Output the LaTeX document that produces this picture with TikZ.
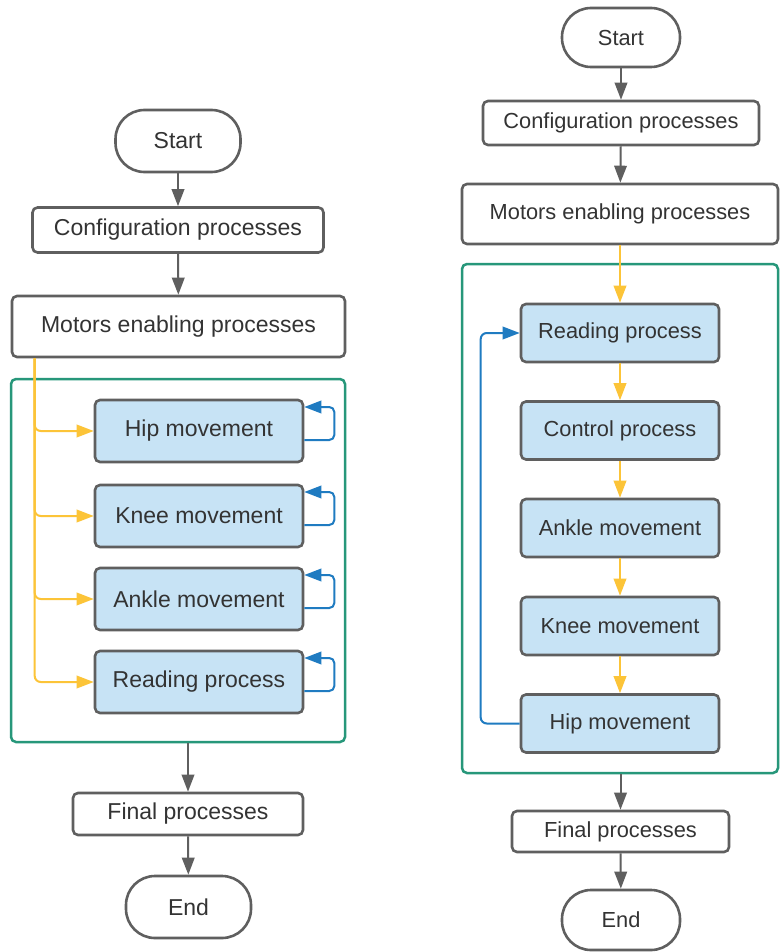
\documentclass[tikz,border=0pt]{standalone}
\usepackage{fontspec}
\setmainfont{Liberation Sans}
\usetikzlibrary{arrows.meta,calc}
\definecolor{bord}{HTML}{5F5F5F}
\definecolor{boxfill}{HTML}{C7E3F5}
\definecolor{grn}{HTML}{27977A}
\definecolor{yel}{HTML}{FCC438}
\definecolor{blu}{HTML}{1F7BC1}
\definecolor{txt}{HTML}{333333}
\begin{document}
\begin{tikzpicture}[x=1pt,y=-1pt,
  base/.style={draw=bord, line width=2.6pt, text=txt, font=\fontsize{23}{27}\selectfont, inner sep=0pt},
  rfont/.style={font=\fontsize{21.8}{26}\selectfont},
  term/.style={base, rounded corners=29pt, fill=white},
  proc/.style={base, rounded corners=5pt, fill=white},
  bluebox/.style={base, rounded corners=5pt, fill=boxfill},
  frame/.style={draw=grn, line width=2.5pt, rounded corners=5pt, inner sep=0pt},
  tip/.style={-{Triangle[length=17pt,width=12.5pt]}},
  garrow/.style={draw=bord, line width=2pt, tip},
  yarrow/.style={draw=yel, line width=2pt, tip},
  barrow/.style={draw=blu, line width=2pt, tip}
]
\useasboundingbox (0,0) rectangle (779,952);
\fill[white] (0,0) rectangle (779,952);

% ---------------- LEFT ----------------
\node[frame, minimum width=334pt, minimum height=363pt] (lframe) at (178,560.5) {};
\node[term, minimum width=125pt, minimum height=62pt] (lstart) at (178,141) {Start};
\node[proc, minimum width=291pt, minimum height=45pt] (lconf) at (178,230) {Configuration processes};
\node[proc, minimum width=333pt, minimum height=61pt] (lmot) at (178.5,326.5) {Motors enabling processes};
\node[bluebox, minimum width=208pt, minimum height=62pt] (lhip) at (199,431) {Hip movement};
\node[bluebox, minimum width=208pt, minimum height=62pt] (lknee) at (199,516) {Knee movement};
\node[bluebox, minimum width=208pt, minimum height=62pt] (lankle) at (199,599) {Ankle movement};
\node[bluebox, minimum width=208pt, minimum height=62pt] (lread) at (199,682) {Reading process};
\node[proc, minimum width=230pt, minimum height=42pt] (lfin) at (188,814) {Final processes};
\node[term, minimum width=125pt, minimum height=62pt] (lend) at (188.5,907) {End};

\coordinate (ltrunk) at ($(lmot.south west)+(24,0)$);
\draw[garrow] (lstart) -- (lconf);
\draw[garrow] (lconf) -- (lmot);
\foreach \b in {lhip,lknee,lankle,lread}{
  \draw[yarrow, rounded corners=6pt] (ltrunk) |- (\b.west);
}
\foreach \b in {lhip,lknee,lankle,lread}{
  \draw[barrow, rounded corners=5pt] ($(\b.east)+(0,9)$) -- ++(30,0) -- ++(0,-33) -- ($(\b.east)+(0,-24)$);
}
\draw[garrow] (lframe.south -| lfin.north) -- (lfin.north);
\draw[garrow] (lfin) -- (lend);

% ---------------- RIGHT ----------------
\node[frame, minimum width=316pt, minimum height=509pt] (rframe) at (620,518.5) {};
\node[term, rfont, minimum width=118pt, minimum height=59pt] (rstart) at (621,37.5) {Start};
\node[proc, rfont, minimum width=276pt, minimum height=44pt] (rconf) at (621,123) {Configuration processes};
\node[proc, rfont, minimum width=316pt, minimum height=60pt] (rmot) at (620,214) {Motors enabling processes};
\node[bluebox, rfont, minimum width=198pt, minimum height=58pt] (rread) at (620,333) {Reading process};
\node[bluebox, rfont, minimum width=198pt, minimum height=58pt] (rctrl) at (620,430.5) {Control process};
\node[bluebox, rfont, minimum width=198pt, minimum height=58pt] (rankle) at (620,528) {Ankle movement};
\node[bluebox, rfont, minimum width=198pt, minimum height=58pt] (rknee) at (620,626) {Knee movement};
\node[bluebox, rfont, minimum width=198pt, minimum height=58pt] (rhip) at (620,723.5) {Hip movement};
\node[proc, rfont, minimum width=217pt, minimum height=41pt] (rfin) at (620.5,831.5) {Final processes};
\node[term, rfont, minimum width=118pt, minimum height=60pt] (rend) at (621,920) {End};

\draw[garrow] (rstart) -- (rconf);
\draw[garrow] (rconf) -- (rmot);
\draw[yarrow] (rmot) -- (rread);
\draw[yarrow] (rread) -- (rctrl);
\draw[yarrow] (rctrl) -- (rankle);
\draw[yarrow] (rankle) -- (rknee);
\draw[yarrow] (rknee) -- (rhip);
\draw[barrow, rounded corners=6pt] (rhip.west) -- ++(-39,0) |- (rread.west);
\draw[garrow] (rframe.south -| rfin.north) -- (rfin.north);
\draw[garrow] (rfin) -- (rend);
\end{tikzpicture}
\end{document}
